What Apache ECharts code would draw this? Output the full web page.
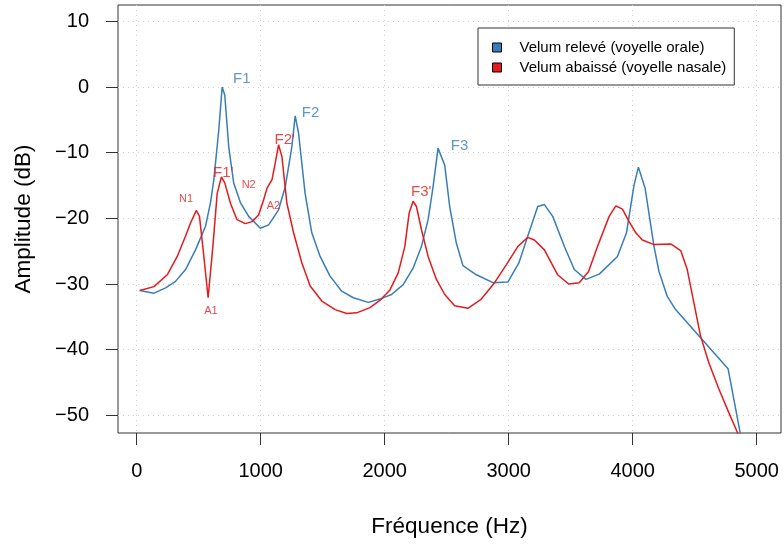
<!DOCTYPE html>
<html><head><meta charset="utf-8">
<script src="https://cdn.jsdelivr.net/npm/echarts@6/dist/echarts.min.js"></script>
<style>html,body{margin:0;padding:0;background:#fff}#c{width:784px;height:545px}</style>
</head><body><div id="c"></div>
<script>
// Tick labels
const xTicks = [0, 1000, 2000, 3000, 4000, 5000];
const yTicks = [-50, -40, -30, -20, -10, 0, 10];

// Series names
const seriesNames = ['Velum relevé (voyelle orale)', 'Velum abaissé (voyelle nasale)'];

// Oral vowel (velum raised) spectrum
const oralFreq = [24,139,233,313,394,474,555,595,622,662,689,710,742,782,836,903,997,1064,1144,1198,1251,1278,1305,1358,1412,1479,1559,1653,1747,1867,1961,2055,2149,2229,2296,2350,2390,2430,2484,2524,2578,2631,2739,2873,2993,3082,3154,3234,3288,3355,3449,3529,3623,3730,3877,3950,4011,4046,4100,4172,4212,4279,4346,4769,4880];
const oralDb = [-31.0,-31.4,-30.6,-29.6,-27.8,-24.8,-21.2,-17.6,-14.1,-6.5,0,-1.2,-9.1,-14.6,-17.6,-19.7,-21.5,-21.0,-18.7,-15.2,-9.1,-4.4,-7.0,-16.2,-22.2,-25.8,-28.8,-31.1,-32.1,-32.8,-32.3,-31.6,-30.1,-27.6,-24.3,-20.2,-15.2,-9.3,-11.9,-18.2,-23.8,-27.2,-28.6,-29.8,-29.7,-26.8,-22.7,-18.2,-17.9,-19.7,-24.3,-27.8,-29.3,-28.5,-25.8,-22.2,-14.9,-12.2,-15.4,-24.3,-28.1,-31.9,-33.9,-42.9,-54];

// Nasal vowel (velum lowered) spectrum
const nasalFreq = [24,139,246,327,394,434,480,506,533,576,614,649,683,710,756,809,876,930,983,1023,1051,1091,1117,1144,1171,1211,1265,1332,1399,1493,1600,1694,1774,1881,1961,2042,2109,2162,2197,2229,2256,2296,2350,2417,2484,2564,2671,2779,2886,2980,3073,3154,3207,3288,3395,3483,3569,3644,3716,3810,3864,3917,3971,4025,4078,4172,4306,4387,4440,4494,4547,4614,4695,4775,4842,4870];
const nasalDb = [-31.0,-30.4,-28.6,-25.8,-22.7,-20.7,-18.8,-19.7,-24.3,-32.1,-24.3,-16.2,-13.7,-14.6,-17.7,-20.2,-20.8,-20.5,-19.5,-17.2,-15.4,-14.1,-11.6,-8.8,-10.6,-17.7,-22.2,-26.8,-30.3,-32.6,-33.9,-34.5,-34.4,-33.6,-32.5,-30.9,-28.3,-24.3,-19.2,-17.4,-18.2,-21.7,-25.8,-29.3,-31.6,-33.3,-33.7,-32.3,-29.8,-27.1,-24.3,-22.9,-23.3,-24.8,-28.6,-30.0,-29.8,-28.1,-24.3,-19.7,-18.1,-18.6,-20.5,-22.2,-23.3,-24.0,-23.9,-24.9,-27.8,-32.9,-37.9,-42.0,-46.0,-49.6,-52.5,-54];

// Annotations (text, anchored in data coordinates)
const oralLabelText = ['F1', 'F2', 'F3'];
const oralLabelFreq = [847, 1402, 2603];
const oralLabelDb = [1.2, -3.9, -9.0];
const nasalLabelText = ["F1'", "F2'", "F3'"];
const nasalLabelFreq = [698, 1194, 2295];
const nasalLabelDb = [-13.1, -8.0, -15.9];
const smallLabelText = ['N1', 'N2', 'A1', 'A2'];
const smallLabelFreq = [398, 903, 598, 1102];
const smallLabelDb = [-17.0, -14.9, -34.1, -18.1];

const BLUE = '#377EB8', RED = '#E41A1C';
const FONT = 'Liberation Sans, Arial, Helvetica, sans-serif';

const pairs = (f, d) => f.map((v, i) => [v, d[i]]);
const labelData = (t, f, d) => t.map((s, i) => ({ name: s, value: [f[i], d[i]] }));
const fmtNum = v => (v < 0 ? '\u2212' + Math.abs(v) : String(v));

function labelSeries(name, data, color, size) {
  return {
    name: name, type: 'scatter', data: data, symbolSize: 1,
    itemStyle: { color: 'rgba(0,0,0,0)' }, silent: true, z: 5,
    label: { show: true, position: 'inside', formatter: '{b}', color: color, fontSize: size, fontFamily: FONT }
  };
}

const chart = echarts.init(document.getElementById('c'), null, { renderer: 'canvas' });
chart.setOption({
  animation: false,
  backgroundColor: '#fff',
  textStyle: { fontFamily: FONT },
  grid: { left: 118, right: 3, top: 5, bottom: 112, show: true, borderColor: '#333', borderWidth: 1, backgroundColor: 'transparent' },
  legend: {
    data: seriesNames, orient: 'vertical', left: 478, top: 28,
    padding: [12, 8, 10, 14], itemGap: 5, itemWidth: 9, itemHeight: 9,
    icon: 'rect', borderColor: '#333', borderWidth: 1, backgroundColor: '#fff',
    itemStyle: { borderColor: '#000', borderWidth: 1 },
    textStyle: { fontSize: 15, color: '#000', fontFamily: FONT, padding: [0, 0, 0, 13] }
  },
  xAxis: {
    type: 'value', min: -151, max: 5196,
    name: 'Fréquence (Hz)', nameLocation: 'middle', nameGap: 82,
    nameTextStyle: { fontSize: 22.5, color: '#000', fontFamily: FONT },
    axisLine: { show: false, onZero: false },
    axisTick: { show: true, inside: false, length: 12, customValues: xTicks, lineStyle: { color: '#333' } },
    axisLabel: { customValues: xTicks, margin: 28, fontSize: 20, color: '#000', fontFamily: FONT, formatter: fmtNum },
    splitLine: { show: true, lineStyle: { color: '#cfcfcf', type: [1, 4], width: 1 } }
  },
  yAxis: {
    type: 'value', min: -52.7, max: 12.5,
    name: 'Amplitude (dB)', nameLocation: 'middle', nameGap: 83,
    nameTextStyle: { fontSize: 22.5, color: '#000', fontFamily: FONT },
    axisLine: { show: false, onZero: false },
    axisTick: { show: true, inside: false, length: 12, customValues: yTicks, lineStyle: { color: '#333' } },
    axisLabel: { customValues: yTicks, margin: 29, fontSize: 20, color: '#000', fontFamily: FONT, formatter: fmtNum },
    splitLine: { show: true, lineStyle: { color: '#cfcfcf', type: [1, 4], width: 1 } }
  },
  series: [
    { name: seriesNames[0], type: 'line', data: pairs(oralFreq, oralDb), showSymbol: false, symbol: 'none', clip: true,
      color: BLUE, lineStyle: { color: BLUE, width: 1.5 }, itemStyle: { color: BLUE } },
    { name: seriesNames[1], type: 'line', data: pairs(nasalFreq, nasalDb), showSymbol: false, symbol: 'none', clip: true,
      color: RED, lineStyle: { color: RED, width: 1.5 }, itemStyle: { color: RED } },
    labelSeries('oralLabels', labelData(oralLabelText, oralLabelFreq, oralLabelDb), BLUE, 15),
    labelSeries('nasalLabels', labelData(nasalLabelText, nasalLabelFreq, nasalLabelDb), RED, 15),
    labelSeries('smallLabels', labelData(smallLabelText, smallLabelFreq, smallLabelDb), RED, 11)
  ]
});
</script></body></html>
